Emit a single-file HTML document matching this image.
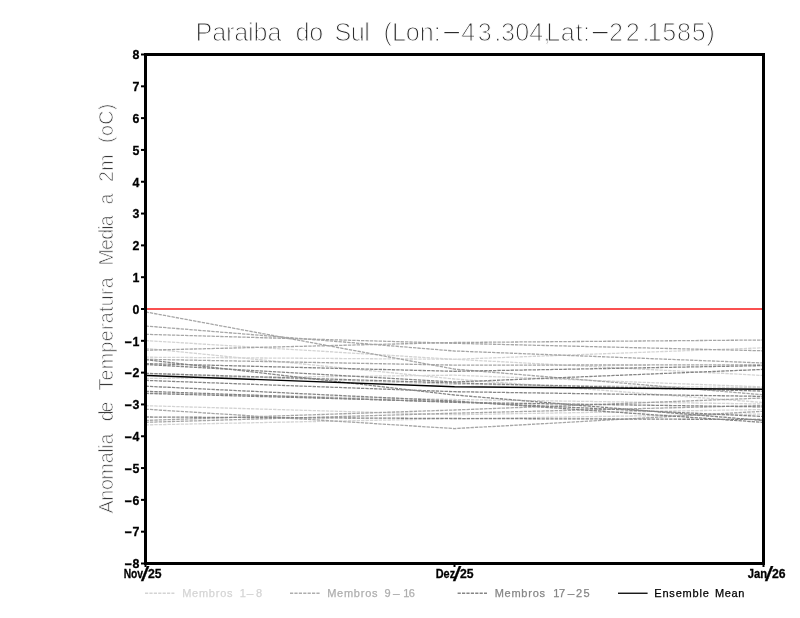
<!DOCTYPE html>
<html lang="pt">
<head>
<meta charset="utf-8">
<title>Paraiba do Sul (Lon:-43.304,Lat:-22.1585)</title>
<style>
html,body{margin:0;padding:0;background:#fff;}
body{width:800px;height:618px;overflow:hidden;}
svg{display:block;}
text{font-family:"Liberation Sans",sans-serif;}
.ttl{font-size:25.2px;fill:#2c2c2c;stroke:#fff;stroke-width:1.05px;}
.yl{font-size:19.6px;fill:#3a3a3a;stroke:#fff;stroke-width:0.75px;}
.tk{font-size:13.5px;font-weight:bold;fill:#000;stroke:#000;stroke-width:0.3px;}
.lg{font-size:11px;}
.m{fill:none;stroke-width:1.3;stroke-dasharray:3.4 1;}
</style>
</head>
<body>
<svg width="800" height="618" viewBox="0 0 800 618">
<rect x="0" y="0" width="800" height="618" fill="#fff"/>
<defs><clipPath id="plot"><rect x="147" y="56" width="615" height="506"/></clipPath></defs>

<g class="ttl" style="filter:grayscale(1)">
<text x="195.6" y="41.3" textLength="85.8" lengthAdjust="spacing">Paraiba</text>
<text x="295.6" y="41.3" textLength="27.6" lengthAdjust="spacing">do</text>
<text x="334.6" y="41.3" textLength="35.2" lengthAdjust="spacing">Sul</text>
<text y="41.3"><tspan x="383.6" textLength="57.1" lengthAdjust="spacing">(Lon:</tspan><tspan x="441.9" dy="-3.9" font-size="14" stroke="none" textLength="19.8" lengthAdjust="spacingAndGlyphs">-</tspan><tspan x="461.3" dy="3.9" textLength="40" lengthAdjust="spacing">43.</tspan><tspan x="501.0" textLength="49.5" lengthAdjust="spacing">304,</tspan><tspan x="546.2" textLength="43.9" lengthAdjust="spacing">Lat:</tspan><tspan x="590.4" dy="-3.9" font-size="14" stroke="none" textLength="19.8" lengthAdjust="spacingAndGlyphs">-</tspan><tspan x="608.9" dy="3.9" textLength="40.5" lengthAdjust="spacing">22.</tspan><tspan x="647.5" textLength="67.5" lengthAdjust="spacing">1585)</tspan></text>
</g>
<g class="yl" style="filter:grayscale(1)" transform="translate(113,0) rotate(-90)">
<text x="-513.6" y="0" textLength="80.1" lengthAdjust="spacing">Anomalia</text>
<text x="-421.2" y="0" textLength="19.5" lengthAdjust="spacing">de</text>
<text x="-390.5" y="0" textLength="113.2" lengthAdjust="spacing">Temperatura</text>
<text x="-265.4" y="0" textLength="50.0" lengthAdjust="spacing">Media</text>
<text x="-204.6" y="0" textLength="9.9" lengthAdjust="spacing">a</text>
<text x="-182.0" y="0" textLength="27.5" lengthAdjust="spacing">2m</text>
<text x="-142.9" y="0" textLength="39.2" lengthAdjust="spacing">(oC)</text>
</g>
<g clip-path="url(#plot)">
<polyline class="m" stroke="#d3d3d3" points="145.5,340.6 454.5,359.3 763.5,375.5"/>
<polyline class="m" stroke="#d3d3d3" points="145.5,348.4 454.5,379.0 763.5,402.5"/>
<polyline class="m" stroke="#d3d3d3" points="145.5,357.2 454.5,359.3 763.5,347.8"/>
<polyline class="m" stroke="#d3d3d3" points="145.5,378.5 454.5,375.2 763.5,386.9"/>
<polyline class="m" stroke="#d3d3d3" points="145.5,405.7 454.5,414.7 763.5,409.5"/>
<polyline class="m" stroke="#d3d3d3" points="145.5,424.9 454.5,418.7 763.5,414.0"/>
<polyline class="m" stroke="#d3d3d3" points="145.5,393.0 454.5,399.5 763.5,404.0"/>
<polyline class="m" stroke="#d3d3d3" points="145.5,373.6 454.5,384.3 763.5,387.7"/>
<polyline class="m" stroke="#a6a6a6" points="145.5,311.9 454.5,369.1 763.5,394.8"/>
<polyline class="m" stroke="#a6a6a6" points="145.5,326.0 454.5,351.0 763.5,363.0"/>
<polyline class="m" stroke="#a6a6a6" points="145.5,334.3 454.5,343.3 763.5,350.8"/>
<polyline class="m" stroke="#a6a6a6" points="145.5,350.2 454.5,342.5 763.5,340.0"/>
<polyline class="m" stroke="#a6a6a6" points="145.5,359.3 454.5,365.1 763.5,364.9"/>
<polyline class="m" stroke="#a6a6a6" points="145.5,409.2 454.5,428.6 763.5,411.3"/>
<polyline class="m" stroke="#a6a6a6" points="145.5,420.4 454.5,410.0 763.5,398.0"/>
<polyline class="m" stroke="#a6a6a6" points="145.5,422.3 454.5,413.2 763.5,405.5"/>
<polyline class="m" stroke="#868686" points="145.5,359.7 454.5,395.0 763.5,420.5"/>
<polyline class="m" stroke="#868686" points="145.5,363.6 454.5,371.3 763.5,365.6"/>
<polyline class="m" stroke="#868686" points="145.5,364.5 454.5,382.0 763.5,369.4"/>
<polyline class="m" stroke="#868686" points="145.5,373.3 454.5,383.0 763.5,391.1"/>
<polyline class="m" stroke="#868686" points="145.5,380.4 454.5,391.7 763.5,396.4"/>
<polyline class="m" stroke="#868686" points="145.5,386.2 454.5,401.0 763.5,422.4"/>
<polyline class="m" stroke="#868686" points="145.5,391.3 454.5,402.4 763.5,406.9"/>
<polyline class="m" stroke="#868686" points="145.5,393.4 454.5,401.8 763.5,416.5"/>
<polyline class="m" stroke="#868686" points="145.5,417.0 454.5,418.5 763.5,419.5"/>
<line x1="145.5" y1="309.0" x2="763.5" y2="309.0" stroke="#fa5050" stroke-width="2"/>
<polyline fill="none" stroke="#000" stroke-width="1.4" points="145.5,375.4 454.5,386.8 763.5,389.3"/>
</g>
<rect x="145.5" y="54.5" width="618" height="509" fill="none" stroke="#000" stroke-width="3"/>
<g stroke="#000" stroke-width="2">
<line x1="141" y1="54.50" x2="145" y2="54.50"/>
<line x1="141" y1="86.31" x2="145" y2="86.31"/>
<line x1="141" y1="118.12" x2="145" y2="118.12"/>
<line x1="141" y1="149.94" x2="145" y2="149.94"/>
<line x1="141" y1="181.75" x2="145" y2="181.75"/>
<line x1="141" y1="213.56" x2="145" y2="213.56"/>
<line x1="141" y1="245.38" x2="145" y2="245.38"/>
<line x1="141" y1="277.19" x2="145" y2="277.19"/>
<line x1="141" y1="309.00" x2="145" y2="309.00"/>
<line x1="141" y1="340.81" x2="145" y2="340.81"/>
<line x1="141" y1="372.62" x2="145" y2="372.62"/>
<line x1="141" y1="404.44" x2="145" y2="404.44"/>
<line x1="141" y1="436.25" x2="145" y2="436.25"/>
<line x1="141" y1="468.06" x2="145" y2="468.06"/>
<line x1="141" y1="499.88" x2="145" y2="499.88"/>
<line x1="141" y1="531.69" x2="145" y2="531.69"/>
<line x1="141" y1="563.50" x2="145" y2="563.50"/>
<line x1="145.5" y1="564" x2="145.5" y2="567"/>
<line x1="454.5" y1="564" x2="454.5" y2="567"/>
<line x1="763.5" y1="564" x2="763.5" y2="567"/>
</g>
<g class="tk" style="filter:grayscale(1)">
<text x="132.5" y="59.25" textLength="6.9" lengthAdjust="spacingAndGlyphs">8</text>
<text x="132.5" y="91.06" textLength="6.9" lengthAdjust="spacingAndGlyphs">7</text>
<text x="132.5" y="122.88" textLength="6.9" lengthAdjust="spacingAndGlyphs">6</text>
<text x="132.5" y="154.69" textLength="6.9" lengthAdjust="spacingAndGlyphs">5</text>
<text x="132.5" y="186.50" textLength="6.9" lengthAdjust="spacingAndGlyphs">4</text>
<text x="132.5" y="218.31" textLength="6.9" lengthAdjust="spacingAndGlyphs">3</text>
<text x="132.5" y="250.12" textLength="6.9" lengthAdjust="spacingAndGlyphs">2</text>
<text x="132.5" y="281.94" textLength="6.9" lengthAdjust="spacingAndGlyphs">1</text>
<text x="132.5" y="313.75" textLength="6.9" lengthAdjust="spacingAndGlyphs">0</text>
<text y="345.56"><tspan x="124.3" textLength="7.9" lengthAdjust="spacingAndGlyphs">-</tspan><tspan x="132.5" textLength="6.9" lengthAdjust="spacingAndGlyphs">1</tspan></text>
<text y="377.38"><tspan x="124.3" textLength="7.9" lengthAdjust="spacingAndGlyphs">-</tspan><tspan x="132.5" textLength="6.9" lengthAdjust="spacingAndGlyphs">2</tspan></text>
<text y="409.19"><tspan x="124.3" textLength="7.9" lengthAdjust="spacingAndGlyphs">-</tspan><tspan x="132.5" textLength="6.9" lengthAdjust="spacingAndGlyphs">3</tspan></text>
<text y="441.00"><tspan x="124.3" textLength="7.9" lengthAdjust="spacingAndGlyphs">-</tspan><tspan x="132.5" textLength="6.9" lengthAdjust="spacingAndGlyphs">4</tspan></text>
<text y="472.81"><tspan x="124.3" textLength="7.9" lengthAdjust="spacingAndGlyphs">-</tspan><tspan x="132.5" textLength="6.9" lengthAdjust="spacingAndGlyphs">5</tspan></text>
<text y="504.62"><tspan x="124.3" textLength="7.9" lengthAdjust="spacingAndGlyphs">-</tspan><tspan x="132.5" textLength="6.9" lengthAdjust="spacingAndGlyphs">6</tspan></text>
<text y="536.44"><tspan x="124.3" textLength="7.9" lengthAdjust="spacingAndGlyphs">-</tspan><tspan x="132.5" textLength="6.9" lengthAdjust="spacingAndGlyphs">7</tspan></text>
<text y="568.25"><tspan x="124.3" textLength="7.9" lengthAdjust="spacingAndGlyphs">-</tspan><tspan x="132.5" textLength="6.9" lengthAdjust="spacingAndGlyphs">8</tspan></text>
<text y="577.7"><tspan x="123.7" textLength="19.4" lengthAdjust="spacingAndGlyphs">Nov</tspan><tspan x="140.9" dy="2.9" font-size="20" font-weight="normal" stroke-width="0.25" textLength="8.2" lengthAdjust="spacingAndGlyphs">/</tspan><tspan x="147.9" dy="-2.9" textLength="13.6" lengthAdjust="spacingAndGlyphs">25</tspan></text>
<text y="577.7"><tspan x="435.7" textLength="19.4" lengthAdjust="spacingAndGlyphs">Dez</tspan><tspan x="452.9" dy="2.9" font-size="20" font-weight="normal" stroke-width="0.25" textLength="8.2" lengthAdjust="spacingAndGlyphs">/</tspan><tspan x="459.9" dy="-2.9" textLength="13.6" lengthAdjust="spacingAndGlyphs">25</tspan></text>
<text y="577.7"><tspan x="747.7" textLength="19.4" lengthAdjust="spacingAndGlyphs">Jan</tspan><tspan x="764.9" dy="2.9" font-size="20" font-weight="normal" stroke-width="0.25" textLength="8.2" lengthAdjust="spacingAndGlyphs">/</tspan><tspan x="771.9" dy="-2.9" textLength="13.6" lengthAdjust="spacingAndGlyphs">26</tspan></text>
</g>
<g class="lg" style="filter:grayscale(1)">
<line x1="145" y1="593.25" x2="174.4" y2="593.25" stroke="#d4d4d4" stroke-width="1.3" stroke-dasharray="3.2 1.2"/>
<text y="596.5" fill="#d4d4d4" stroke="#d4d4d4" stroke-width="0.25"><tspan x="182.2" textLength="50.3" lengthAdjust="spacing">Membros</tspan><tspan x="239.8">1</tspan><tspan x="245.7" textLength="8.6" lengthAdjust="spacingAndGlyphs">-</tspan><tspan x="255.9">8</tspan></text>
<line x1="290" y1="593.25" x2="320" y2="593.25" stroke="#aeaeae" stroke-width="1.3" stroke-dasharray="3.2 1.2"/>
<text y="596.5" fill="#aeaeae" stroke="#aeaeae" stroke-width="0.25"><tspan x="327.2" textLength="50.3" lengthAdjust="spacing">Membros</tspan><tspan x="384.6">9</tspan><tspan x="391.9" textLength="8.6" lengthAdjust="spacingAndGlyphs">-</tspan><tspan x="403.2">1</tspan><tspan x="408.7">6</tspan></text>
<line x1="457.6" y1="593.25" x2="487" y2="593.25" stroke="#868686" stroke-width="1.3" stroke-dasharray="3.2 1.2"/>
<text y="596.5" fill="#868686" stroke="#868686" stroke-width="0.25"><tspan x="494.7" textLength="50.3" lengthAdjust="spacing">Membros</tspan><tspan x="553.2">1</tspan><tspan x="559.1">7</tspan><tspan x="566.7" textLength="8.6" lengthAdjust="spacingAndGlyphs">-</tspan><tspan x="576.1">2</tspan><tspan x="583.5">5</tspan></text>
<line x1="618" y1="593.25" x2="647.6" y2="593.25" stroke="#000000" stroke-width="1.3"/>
<text y="596.5" fill="#000000" stroke="#000000" stroke-width="0.25"><tspan x="654.3" textLength="54.5" lengthAdjust="spacing">Ensemble</tspan><tspan x="714.9" textLength="29.5" lengthAdjust="spacing">Mean</tspan></text>
</g>
</svg>
</body>
</html>
